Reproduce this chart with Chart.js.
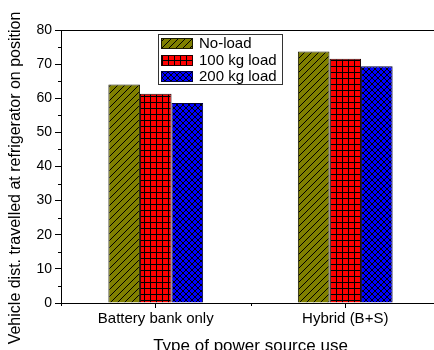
<!DOCTYPE html>
<html>
<head>
<meta charset="utf-8">
<script src="https://cdn.jsdelivr.net/npm/chart.js@4/dist/chart.umd.min.js"></script>
<style>
  html, body { margin: 0; padding: 0; background: #fff; overflow: hidden; }
  canvas { display: block; }
</style>
</head>
<body>
<canvas id="c" width="441" height="360"></canvas>
<script>
/* ── Data ── */
const categories  = ['Battery bank only', 'Hybrid (B+S)'];
const seriesNames = ['No-load', '100 kg load', '200 kg load'];
const noLoad      = [64.0, 73.7];
const load100     = [61.3, 71.6];
const load200     = [58.6, 69.4];
const yMax = 80, yStep = 10;
const xTitle = 'Type of power source use';
const yTitle = 'Vehicle dist. travelled at refrigerator on position';

const FONT = "'Liberation Sans', Arial, sans-serif";
Chart.defaults.font.family = FONT;
Chart.defaults.color = '#000';

const canvas = document.getElementById('c');
const ctx = canvas.getContext('2d');

/* ── Hatch patterns (drawn pixel by pixel so they stay crisp) ── */
function makePattern(bg, size, draw) {
    const t = document.createElement('canvas');
    t.width = t.height = size;
    const g = t.getContext('2d');
    g.fillStyle = bg; g.fillRect(0, 0, size, size);
    g.fillStyle = '#000';
    draw(g, size);
    return ctx.createPattern(t, 'repeat');
}
const diag = makePattern('#808000', 7, (g, s) => {
    for (let i = 0; i < s; i++) g.fillRect(s - 1 - i, i, 1, 1);
});
const grid = makePattern('#ff0000', 6, (g, s) => {
    g.fillRect(0, 0, 1, s);
    g.fillRect(0, 0, s, 1);
});
const cross = makePattern('#0000ff', 6, (g, s) => {
    for (let i = 0; i < s; i++) {
        g.fillRect(i, i, 1, 1);
        g.fillRect(s - 1 - i, i, 1, 1);
    }
});
const fills = [diag, grid, cross];
const edges = ['#1a1a00', '#200000', '#000040'];

/* ── Extras: top frame, minor ticks, y title, legend ── */
const extras = {
    id: 'extras',
    afterDraw(chart) {
        const { ctx: c, chartArea: a, scales: { x, y } } = chart;
        c.save();
        c.strokeStyle = '#000'; c.lineWidth = 1;
        c.beginPath();
        c.moveTo(a.left, a.top + 0.5); c.lineTo(a.right, a.top + 0.5);
        for (let v = yStep / 2; v < yMax; v += yStep) {
            const py = Math.round(y.getPixelForValue(v)) + 0.5;
            c.moveTo(a.left - 3, py); c.lineTo(a.left, py);
        }
        for (let i = -0.5; i <= categories.length - 0.5; i++) {
            const px = Math.round(x.getPixelForValue(i)) + 0.5;
            c.moveTo(px, a.bottom); c.lineTo(px, a.bottom + 3);
        }
        c.stroke();

        // y title
        c.fillStyle = '#000';
        c.font = '16px ' + FONT;
        c.textAlign = 'center'; c.textBaseline = 'middle';
        c.translate(16, 178);
        c.rotate(-Math.PI / 2);
        c.fillText(yTitle, 0, 0);
        c.restore();

        // legend
        c.save();
        c.fillStyle = '#fff';
        c.fillRect(158, 34, 124, 50);
        c.strokeStyle = '#333'; c.lineWidth = 1;
        c.strokeRect(158.5, 34.5, 124, 50);
        c.font = '15px ' + FONT;
        c.textBaseline = 'middle'; c.textAlign = 'left';
        chart.data.datasets.forEach((ds, i) => {
            const top = Math.round(38 + i * 16.5);
            c.fillStyle = ds.backgroundColor;
            c.fillRect(161, top, 32, 10);
            c.strokeStyle = ds.borderColor;
            c.strokeRect(161.5, top + 0.5, 31, 10);
            c.fillStyle = '#000';
            c.fillText(ds.label, 199, top + 5.5);
        });
        c.restore();
    }
};

new Chart(canvas, {
    type: 'bar',
    data: {
        labels: categories,
        datasets: [noLoad, load100, load200].map((vals, i) => ({
            label: seriesNames[i],
            data: vals,
            backgroundColor: fills[i],
            borderColor: edges[i],
            borderWidth: 1,
            barPercentage: 1,
            categoryPercentage: 0.5,
        })),
    },
    options: {
        responsive: false,
        animation: false,
        layout: { padding: { top: 30, right: 1, left: 0, bottom: 0 } },
        plugins: { legend: { display: false }, tooltip: { enabled: false } },
        scales: {
            x: {
                afterFit: s => { s.height = 57; },
                grid: { offset: false, drawOnChartArea: false, tickLength: 5, color: '#000' },
                border: { color: '#000', width: 1 },
                ticks: { font: { size: 15 }, color: '#000', padding: 2, maxRotation: 0 },
                title: { display: true, text: xTitle, font: { size: 17 }, color: '#000',
                         padding: { top: 0, bottom: 3 } },
            },
            y: {
                min: 0, max: yMax,
                afterFit: s => { s.width = 61; },
                grid: { drawOnChartArea: false, tickLength: 6, color: '#000' },
                border: { color: '#000', width: 1 },
                ticks: { stepSize: yStep, font: { size: 14 }, color: '#000', padding: 3 },
            },
        },
    },
    plugins: [extras],
});
</script>
</body>
</html>
